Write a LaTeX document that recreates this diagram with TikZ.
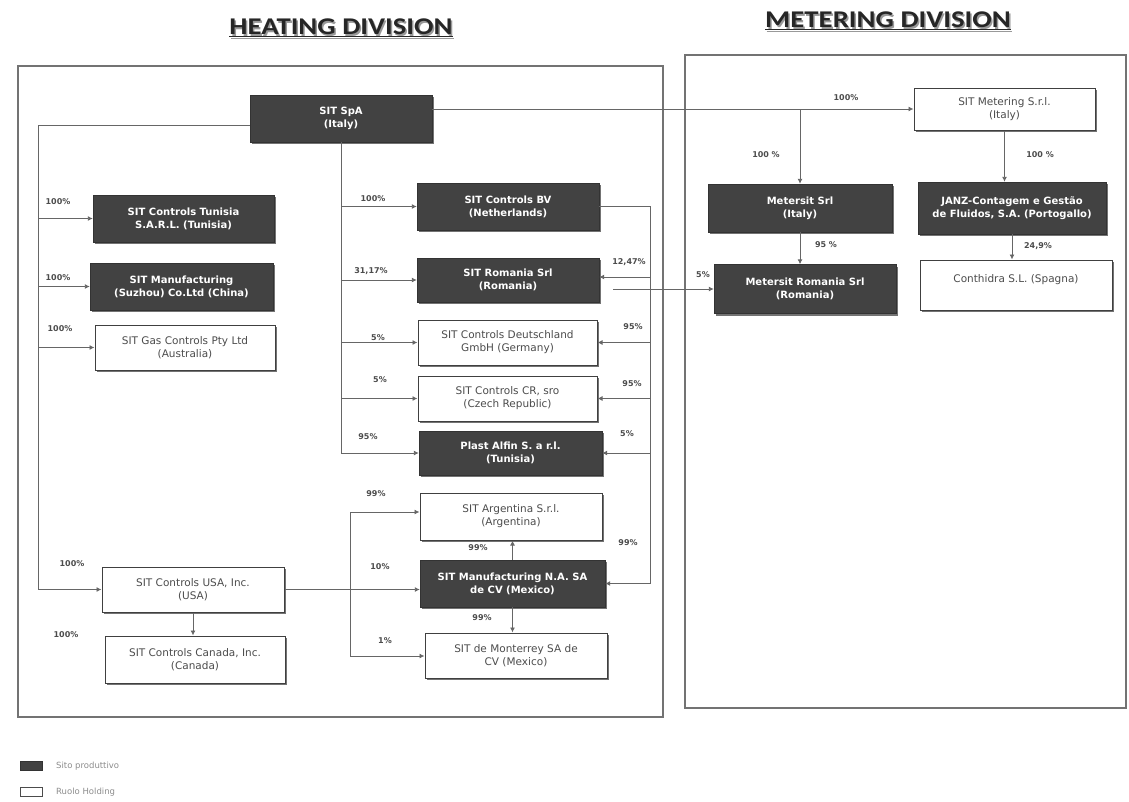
\documentclass[tikz,border=0pt]{standalone}
\usepackage{fontspec}
\setmainfont{DejaVu Sans}
\newfontfamily\titlefont{Carlito}
\usetikzlibrary{arrows.meta,shadows}
\tikzset{
  dk/.style={draw=black!80, fill=black!74, text=white, align=center, inner sep=0pt,
    font=\bfseries\fontsize{10}{13}\selectfont,
    drop shadow={shadow xshift=2pt, shadow yshift=-2pt, fill=black!55, opacity=1}},
  wt/.style={draw=black!75, line width=1pt, fill=white, text=black!70, align=center, inner sep=0pt,
    font=\fontsize{10.5}{13}\selectfont,
    drop shadow={shadow xshift=2pt, shadow yshift=-2pt, fill=black!55, opacity=1}},
  ln/.style={draw=black!60, line width=0.9pt},
  con/.style={draw=black!60, line width=0.9pt, -{Latex[length=5pt,width=5pt]}},
  pct/.style={font=\bfseries\fontsize{8}{9}\selectfont, text=black!70, inner sep=0pt},
  frame/.style={draw=black!55, line width=1.2pt},
  ttl/.style={font=\titlefont\bfseries\fontsize{24}{26}\selectfont, inner sep=0pt, xscale=1.2, transform shape},
  lgd/.style={font=\fontsize{8.5}{9}\selectfont, text=black!45, anchor=west, inner sep=0pt}
}
\begin{document}
\begin{tikzpicture}[x=1pt,y=-1pt]
\useasboundingbox (0,0) rectangle (1129,801);
% titles
\node[ttl, text=black!40] (ths) at (342.5,29.5) {\underline{HEATING DIVISION}};
\node[ttl, text=black!85] (th) at (341,28) {\underline{HEATING DIVISION}};
\node[ttl, text=black!40] (tms) at (889.5,22.5) {\underline{METERING DIVISION}};
\node[ttl, text=black!85] (tm) at (888,21) {\underline{METERING DIVISION}};
% frames
\draw[frame] (18,66) rectangle (663,717);
\draw[frame] (685,55) rectangle (1126,708);
% boxes
\node[dk, minimum width=182pt, minimum height=47pt] (spa) at (341,118.5) {SIT SpA\\(Italy)};
\node[wt, minimum width=181pt, minimum height=42pt] (met) at (1004.5,109) {SIT Metering S.r.l.\\(Italy)};
\node[dk, minimum width=184pt, minimum height=48pt] (mts) at (800,208) {Metersit Srl\\(Italy)};
\node[dk, minimum width=188pt, minimum height=52pt] (janz) at (1012,208) {JANZ-Contagem e Gestão\\de Fluidos, S.A. (Portogallo)};
\node[dk, minimum width=182pt, minimum height=49pt] (mtr) at (805,289) {Metersit Romania Srl\\(Romania)};
\node[wt, minimum width=192pt, minimum height=50pt] (cth) at (1016,285) {Conthidra S.L. (Spagna)\\ };
\node[dk, minimum width=181pt, minimum height=47pt] (tun) at (183.5,218.5) {SIT Controls Tunisia\\S.A.R.L. (Tunisia)};
\node[dk, minimum width=183pt, minimum height=47pt] (suz) at (181.5,286.5) {SIT Manufacturing\\(Suzhou) Co.Ltd (China)};
\node[wt, minimum width=180pt, minimum height=45pt] (aus) at (185,347.5) {SIT Gas Controls Pty Ltd\\(Australia)};
\node[dk, minimum width=182pt, minimum height=47pt] (bv) at (508,206.5) {SIT Controls BV\\(Netherlands)};
\node[dk, minimum width=182pt, minimum height=44pt] (rom) at (508,280) {SIT Romania Srl\\(Romania)};
\node[wt, minimum width=179pt, minimum height=45pt] (deu) at (507.5,342.5) {SIT Controls Deutschland\\GmbH (Germany)};
\node[wt, minimum width=179pt, minimum height=45pt] (cr) at (507.5,398.5) {SIT Controls CR, sro\\(Czech Republic)};
\node[dk, minimum width=183pt, minimum height=44pt] (pla) at (510.5,453) {Plast Alfin S. a r.l.\\(Tunisia)};
\node[wt, minimum width=182pt, minimum height=47pt] (arg) at (511,516.5) {SIT Argentina S.r.l.\\(Argentina)};
\node[dk, minimum width=185pt, minimum height=47pt] (mna) at (512.5,583.5) {SIT Manufacturing N.A. SA\\de CV (Mexico)};
\node[wt, minimum width=182pt, minimum height=45pt] (mon) at (516,655.5) {SIT de Monterrey SA de\\CV (Mexico)};
\node[wt, minimum width=182pt, minimum height=45pt] (usa) at (193,589.5) {SIT Controls USA, Inc.\\(USA)};
\node[wt, minimum width=180pt, minimum height=47pt] (can) at (195,659.5) {SIT Controls Canada, Inc.\\(Canada)};
% left trunk
\coordinate (tl) at (38,125);
\coordinate (bl) at (38,589.5);
\draw[ln] ([yshift=-6.5pt]spa.west) -- (tl) -- (bl);
\draw[con] (tl |- tun.west) -- (tun.west);
\draw[con] (tl |- suz.west) -- (suz.west);
\draw[con] (tl |- aus.west) -- (aus.west);
\draw[con] (bl) -- (usa.west);
% middle trunk
\draw[ln] (spa.south) -- (spa.south |- pla.west);
\draw[con] (spa.south |- bv.west) -- (bv.west);
\draw[con] (spa.south |- rom.west) -- (rom.west);
\draw[con] (spa.south |- deu.west) -- (deu.west);
\draw[con] (spa.south |- cr.west) -- (cr.west);
\draw[con] (spa.south |- pla.west) -- (pla.west);
% right trunk
\coordinate (rt) at (650,0);
\coordinate (r3) at ([yshift=3pt]rom.east);
\draw[ln] (bv.east) -- (rt |- bv.east) -- (rt |- mna.east);
\draw[con] (rt |- r3) -- (r3);
\draw[con] (rt |- deu.east) -- (deu.east);
\draw[con] (rt |- cr.east) -- (cr.east);
\draw[con] (rt |- pla.east) -- (pla.east);
\draw[con] (rt |- mna.east) -- (mna.east);
% romania to metersit romania
\coordinate (m5) at (613,289);
\draw[con] (m5) -- (mtr.west);
% metering
\draw[con] (spa.east |- met.west) -- (met.west);
\draw[con] (mts.north |- met.west) -- (mts.north);
\draw[con] (met.south) -- (met.south |- janz.north);
\draw[con] (mts.south) -- (mts.south |- mtr.north);
\draw[con] (janz.south) -- (janz.south |- cth.north);
% bottom
\draw[con] (usa.east) -- (usa.east -| mna.west);
\coordinate (v1) at (350,512);
\coordinate (v2) at (350,656);
\draw[ln] (v1) -- (v2);
\draw[con] (v1) -- (v1 -| arg.west);
\draw[con] (v2) -- (v2 -| mon.west);
\draw[con] (mna.north) -- (mna.north |- arg.south);
\draw[con] (mna.south) -- (mna.south |- mon.north);
\draw[con] (usa.south) -- (usa.south |- can.north);
% percentages
\node[pct] (p1) at (58,202) {100\%};
\node[pct] (p2) at (58,278) {100\%};
\node[pct] (p3) at (60,329) {100\%};
\node[pct] (p4) at (72,564) {100\%};
\node[pct] (p5) at (66,635) {100\%};
\node[pct] (p6) at (373,199) {100\%};
\node[pct] (p7) at (371,271) {31,17\%};
\node[pct] (p8) at (378,338) {5\%};
\node[pct] (p9) at (380,380) {5\%};
\node[pct] (p10) at (368,437) {95\%};
\node[pct] (p11) at (629,262) {12,47\%};
\node[pct] (p12) at (633,327) {95\%};
\node[pct] (p13) at (632,384) {95\%};
\node[pct] (p14) at (627,434) {5\%};
\node[pct] (p15) at (628,543) {99\%};
\node[pct] (p16) at (376,494) {99\%};
\node[pct] (p17) at (478,548) {99\%};
\node[pct] (p18) at (380,567) {10\%};
\node[pct] (p19) at (482,618) {99\%};
\node[pct] (p20) at (385,641) {1\%};
\node[pct] (p21) at (846,98) {100\%};
\node[pct] (p22) at (766,155) {100 \%};
\node[pct] (p23) at (1040,155) {100 \%};
\node[pct] (p24) at (826,245) {95 \%};
\node[pct] (p25) at (1038,246) {24,9\%};
\node[pct] (p26) at (703,275) {5\%};
% legend
\node[draw=black!80, fill=black!74, minimum width=22pt, minimum height=9pt, inner sep=0pt] (lg1) at (31,766) {};
\node[draw=black!70, line width=1pt, fill=white, minimum width=22pt, minimum height=9pt, inner sep=0pt] (lg2) at (31,792) {};
\node[lgd] (lt1) at (56,766) {Sito produttivo};
\node[lgd] (lt2) at (56,792) {Ruolo Holding};
\end{tikzpicture}
\end{document}
